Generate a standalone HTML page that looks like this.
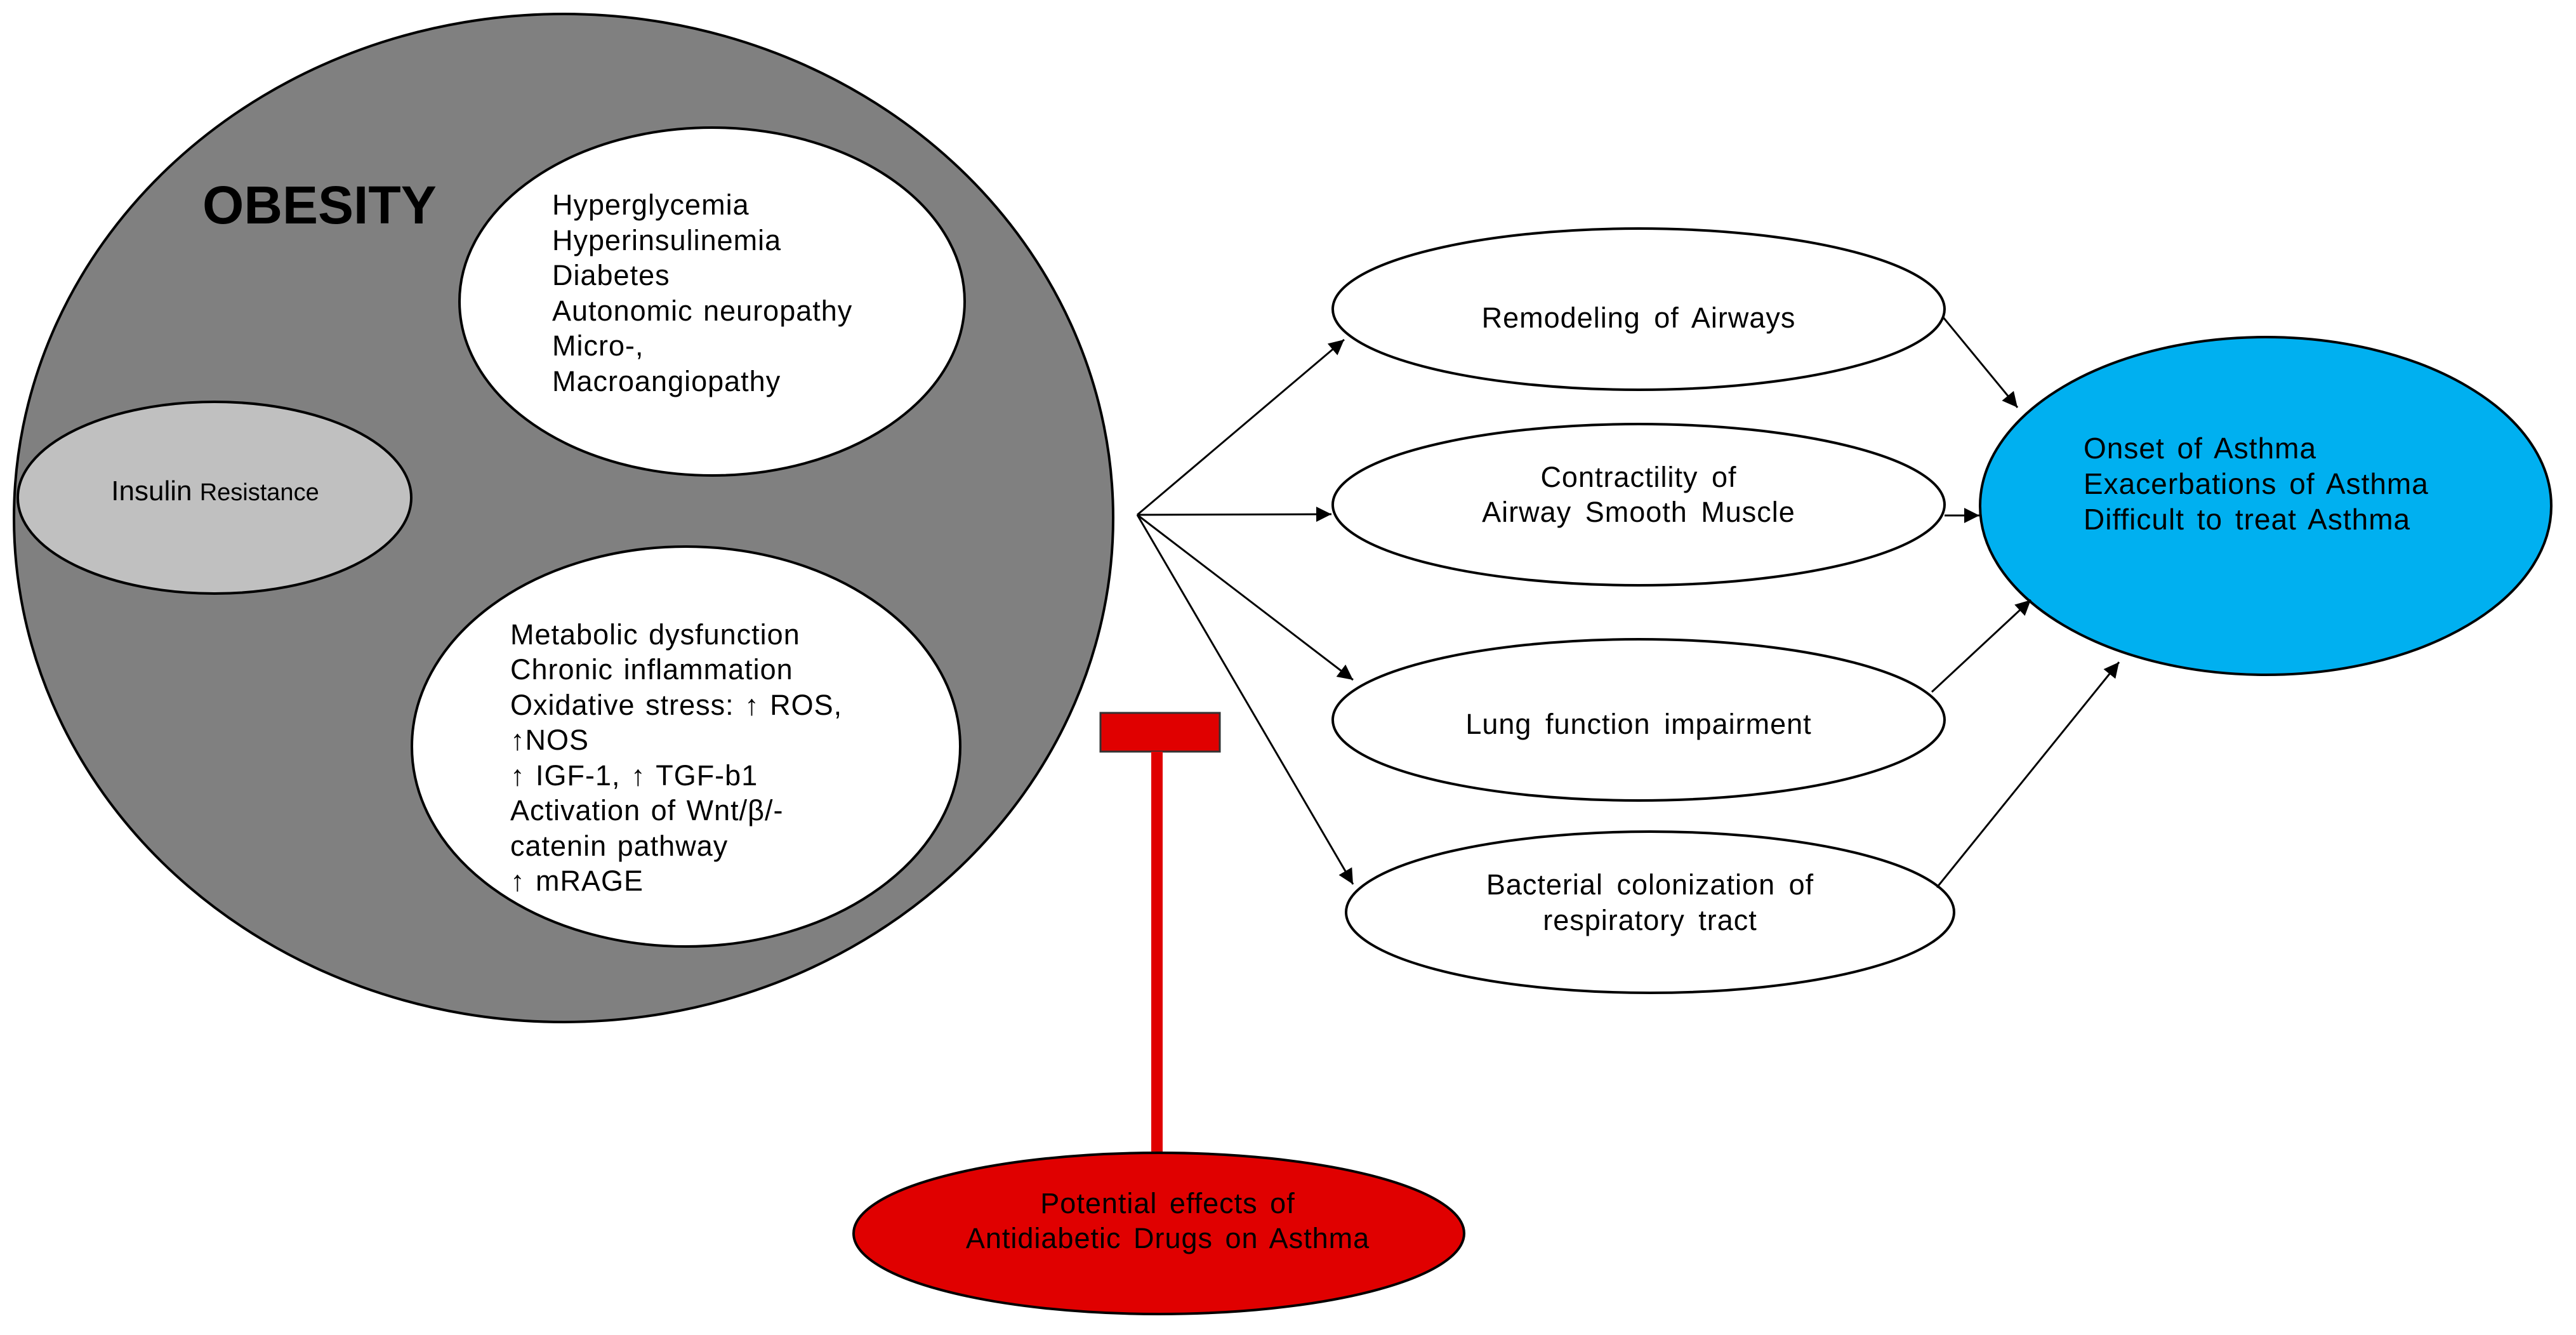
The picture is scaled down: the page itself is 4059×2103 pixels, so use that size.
<!DOCTYPE html>
<html><head><meta charset="utf-8"><style>
html,body{margin:0;padding:0;background:#fff;}
svg{display:block;}
text{font-family:"Liberation Sans",Arial,sans-serif;fill:#000;}
</style></head><body>
<svg width="4059" height="2103" viewBox="0 0 4059 2103" xmlns="http://www.w3.org/2000/svg">
<defs>
<marker id="a" viewBox="0 0 10 10" refX="10" refY="5" markerWidth="28" markerHeight="24" markerUnits="userSpaceOnUse" orient="auto">
<path d="M0,0 L10,5 L0,10 z" fill="#000"/>
</marker>
</defs>
<!-- Obesity -->
<ellipse cx="888" cy="816" rx="866" ry="794" fill="#808080" stroke="#000" stroke-width="4"/>
<text x="319" y="352" font-size="84" font-weight="bold">OBESITY</text>
<ellipse cx="1122" cy="475" rx="398" ry="274" fill="#fff" stroke="#000" stroke-width="4"/>
<g font-size="45" letter-spacing="1" word-spacing="3">
<text x="870" y="338">Hyperglycemia</text>
<text x="870" y="394">Hyperinsulinemia</text>
<text x="870" y="449">Diabetes</text>
<text x="870" y="505">Autonomic neuropathy</text>
<text x="870" y="560">Micro-,</text>
<text x="870" y="616">Macroangiopathy</text>
</g>
<ellipse cx="338" cy="784" rx="310" ry="151" fill="#c0c0c0" stroke="#000" stroke-width="4"/>
<text x="339" y="788" text-anchor="middle"><tspan font-size="44">Insulin </tspan><tspan font-size="38">Resistance</tspan></text>
<ellipse cx="1081" cy="1176" rx="432" ry="315" fill="#fff" stroke="#000" stroke-width="4"/>
<g font-size="45" letter-spacing="1" word-spacing="3">
<text x="804" y="1015">Metabolic dysfunction</text>
<text x="804" y="1070">Chronic inflammation</text>
<text x="804" y="1126">Oxidative stress: ↑ ROS,</text>
<text x="804" y="1181">↑NOS</text>
<text x="804" y="1237">↑ IGF-1, ↑ TGF-b1</text>
<text x="804" y="1292">Activation of Wnt/β/-</text>
<text x="804" y="1348">catenin pathway</text>
<text x="804" y="1403">↑ mRAGE</text>
</g>
<!-- red inhibitor -->
<rect x="1734" y="1123" width="188" height="61" fill="#e00000" stroke="#333" stroke-width="3"/>
<rect x="1814" y="1184" width="18" height="630" fill="#e00000"/>
<ellipse cx="1826" cy="1943" rx="481" ry="127" fill="#e00000" stroke="#000" stroke-width="4"/>
<g font-size="45" text-anchor="middle" letter-spacing="1" word-spacing="6">
<text x="1840" y="1911">Potential effects of</text>
<text x="1840" y="1966">Antidiabetic Drugs on Asthma</text>
</g>
<!-- right ellipses -->
<g fill="#fff" stroke="#000" stroke-width="4">
<ellipse cx="2582" cy="487" rx="482" ry="127"/>
<ellipse cx="2582" cy="795" rx="482" ry="127"/>
<ellipse cx="2582" cy="1134" rx="482" ry="127"/>
<ellipse cx="2600" cy="1437" rx="479" ry="127"/>
</g>
<g font-size="45" text-anchor="middle" letter-spacing="1" word-spacing="8">
<text x="2582" y="516">Remodeling of Airways</text>
<text x="2582" y="767">Contractility of</text>
<text x="2582" y="822">Airway Smooth Muscle</text>
<text x="2582" y="1156">Lung function impairment</text>
<text x="2600" y="1409">Bacterial colonization of</text>
<text x="2600" y="1465">respiratory tract</text>
</g>
<ellipse cx="3570" cy="797" rx="450" ry="266" fill="#00b0f0" stroke="#000" stroke-width="4"/>
<g font-size="46" letter-spacing="1" word-spacing="6">
<text x="3283" y="722">Onset of Asthma</text>
<text x="3283" y="778">Exacerbations of Asthma</text>
<text x="3283" y="834">Difficult to treat Asthma</text>
</g>
<!-- arrows -->
<g stroke="#000" stroke-width="3" fill="none" marker-end="url(#a)">
<line x1="1792" y1="811" x2="2118" y2="535"/>
<line x1="1792" y1="811" x2="2098" y2="810"/>
<line x1="1792" y1="811" x2="2132" y2="1071"/>
<line x1="1792" y1="811" x2="2132" y2="1393"/>
<line x1="3062" y1="500" x2="3179" y2="642"/>
<line x1="3064" y1="812" x2="3119" y2="812"/>
<line x1="3044" y1="1090" x2="3200" y2="945"/>
<line x1="3052" y1="1398" x2="3339" y2="1043"/>
</g>
</svg>
</body></html>
